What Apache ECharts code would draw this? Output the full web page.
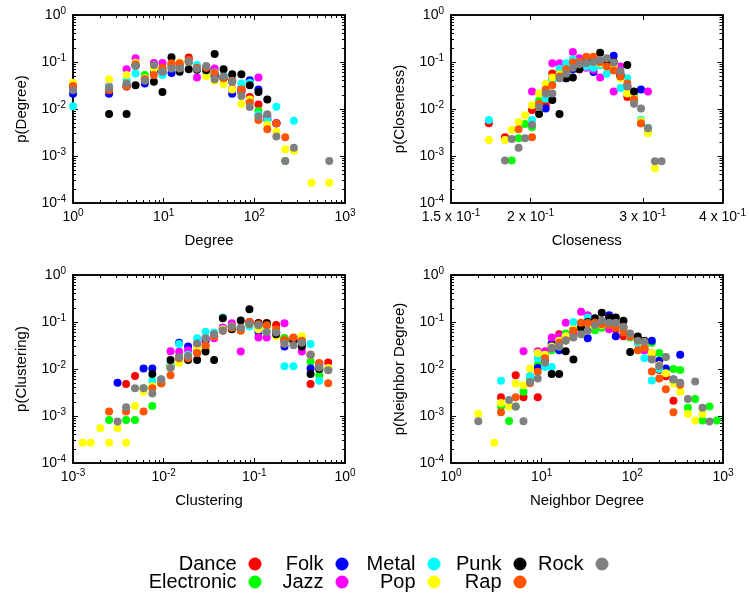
<!DOCTYPE html>
<html lang="en">
<head>
<meta charset="UTF-8">
<title>Genre network distributions</title>
<script src="https://cdn.jsdelivr.net/npm/echarts@6.0.0/dist/echarts.min.js"></script>
<style>
    html, body { margin: 0; padding: 0; background: #fff; }
    #chart { width: 749px; height: 595px; }
</style>
</head>
<body>
<div id="chart"></div>
<script>
    // genres in legend order, gnuplot-ish colours
    const genres = ['Dance', 'Electronic', 'Folk', 'Jazz', 'Metal', 'Pop', 'Punk', 'Rap', 'Rock']
    const genreColors = ['#ff0000', '#00ff00', '#0000ff', '#ff00ff', '#00ffff', '#ffff00', '#000000', '#ff5500', '#808080']

    // ---- p(Degree) ----
    const degreeBins = [1, 2.5, 3.9, 4.9, 6.2, 7.8, 9.7, 12.2, 15, 18.9, 23.3, 29.5, 36.5, 45.8, 57, 72, 89, 111, 139, 175, 219, 273, 427, 670]
    const degreeDance = [0.030, 0.026, 0.031, 0.085, 0.045, 0.075, 0.070, 0.090, 0.090, 0.125, 0.080, 0.075, 0.055, 0.045, 0.040, 0.028, 0.018, 0.0125, 0.007, 0.005, null, null, null, null]
    const degreeElectronic = [0.028, 0.027, 0.033, 0.085, 0.053, 0.070, 0.065, 0.080, 0.080, 0.100, 0.075, 0.070, 0.050, 0.045, 0.038, 0.022, 0.015, 0.0091, 0.006, 0.005, 0.00078, null, null, null]
    const degreeFolk = [0.021, 0.021, 0.030, 0.085, 0.035, 0.065, 0.060, 0.058, 0.075, 0.100, 0.075, 0.070, 0.050, 0.045, 0.021, 0.024, 0.041, 0.026, 0.006, 0.005, null, null, null, null]
    const degreeJazz = [0.027, 0.030, 0.070, 0.120, 0.042, 0.095, 0.095, 0.085, 0.080, 0.110, 0.047, 0.075, 0.073, 0.050, 0.027, 0.025, 0.015, 0.047, 0.006, 0.005, null, null, null, null]
    const degreeMetal = [0.0115, 0.029, 0.041, 0.057, 0.045, 0.075, 0.053, 0.075, 0.075, 0.100, 0.086, 0.065, 0.060, 0.052, 0.050, 0.035, 0.036, 0.0075, 0.0058, 0.0112, null, 0.0056, null, null]
    const degreePop = [0.036, 0.043, 0.053, 0.096, 0.045, 0.072, 0.068, 0.090, 0.096, 0.100, 0.070, 0.050, 0.040, 0.034, 0.026, 0.0127, 0.016, 0.0058, 0.0046, 0.0033, 0.0014, 0.0013, 0.00027, 0.00027]
    const degreePunk = [null, 0.0078, 0.0078, 0.032, null, 0.038, 0.023, 0.126, 0.062, 0.070, 0.068, 0.067, 0.148, 0.070, 0.055, 0.055, 0.032, 0.023, 0.016, null, null, null, null, null]
    const degreeRap = [0.031, 0.025, 0.030, 0.090, 0.043, 0.053, 0.075, 0.094, 0.094, 0.110, 0.075, 0.075, 0.058, 0.045, 0.040, 0.026, 0.0137, 0.0058, 0.0037, 0.005, 0.0025, null, null, null]
    const degreeRock = [0.025, 0.028, 0.035, 0.082, 0.040, 0.086, 0.062, 0.073, 0.073, 0.101, 0.072, 0.082, 0.043, 0.049, 0.038, 0.019, 0.011, 0.0069, 0.0077, 0.0026, 0.00078, 0.0015, null, 0.00078]

    // ---- p(Closeness) ----
    const closeBins = [0.172, 0.1823, 0.1868, 0.1915, 0.196, 0.201, 0.2062, 0.2112, 0.2163, 0.222, 0.2274, 0.233, 0.2385, 0.2445, 0.251, 0.2571, 0.2633, 0.27, 0.2767, 0.2836, 0.2906, 0.298, 0.3056, 0.3134, 0.321]
    const closeDance = [0.005, 0.0025, null, null, null, 0.0095, 0.013, 0.012, 0.057, 0.05, 0.06, 0.075, 0.07, 0.09, 0.1, 0.09, 0.085, 0.08, 0.05, 0.018, 0.015, 0.005, null, null, null]
    const closeElectronic = [null, null, 0.0008, 0.0024, 0.0048, 0.0041, 0.015, 0.025, 0.04, 0.05, 0.06, 0.08, 0.085, 0.1, 0.1, 0.09, 0.09, 0.08, 0.05, 0.03, 0.015, 0.0058, 0.0035, null, null]
    const closeFolk = [null, null, null, null, null, null, null, 0.0103, 0.045, 0.055, 0.045, 0.07, 0.085, 0.1, 0.061, 0.1, 0.1, 0.136, 0.055, 0.03, 0.02, 0.026, null, null, null]
    const closeJazz = [null, null, null, null, null, 0.0235, null, null, 0.094, 0.094, 0.08, 0.163, 0.12, 0.075, 0.068, 0.047, 0.1, 0.0235, 0.08, 0.03, 0.02, null, 0.0235, null, null]
    const closeMetal = [0.0058, null, null, null, null, 0.0058, null, 0.0165, 0.041, 0.072, 0.094, 0.114, 0.1, 0.08, 0.075, 0.085, 0.056, 0.09, 0.028, 0.045, 0.02, 0.0058, 0.004, null, null]
    const closePop = [0.0022, 0.0022, 0.0036, 0.0053, 0.0074, 0.012, 0.0215, 0.034, 0.047, 0.055, 0.065, 0.08, 0.09, 0.1, 0.1, 0.095, 0.09, 0.085, 0.045, 0.0215, 0.017, 0.0055, 0.0031, 0.00055, null]
    const closePunk = [null, null, null, null, null, null, 0.0078, null, 0.0155, 0.0078, 0.045, 0.047, 0.07, 0.1, 0.11, 0.158, 0.1, 0.1, 0.05, 0.086, 0.0235, null, null, null, null]
    const closeRap = [null, null, null, 0.0037, null, 0.0025, 0.013, 0.026, 0.032, 0.049, 0.07, 0.097, 0.1, 0.13, 0.13, 0.1, 0.08, 0.066, 0.05, 0.035, 0.016, 0.005, null, null, null]
    const closeRock = [null, 0.0008, 0.0023, 0.0015, 0.0024, 0.0046, 0.011, 0.0215, 0.0215, 0.045, 0.056, 0.075, 0.09, 0.095, 0.1, 0.11, 0.12, 0.097, 0.064, 0.03, 0.013, 0.0103, 0.0039, 0.00077, 0.00077]

    // ---- p(Clustering) ----
    const clusterBins = [0.00128, 0.00157, 0.002, 0.0025, 0.0031, 0.00385, 0.00483, 0.006, 0.0075, 0.0094, 0.0119, 0.0148, 0.0186, 0.0234, 0.029, 0.036, 0.0449, 0.0564, 0.0708, 0.0883, 0.111, 0.137, 0.174, 0.215, 0.27, 0.334, 0.417, 0.52, 0.653]
    const clusterDance = [null, null, null, null, null, 0.0048, 0.0071, null, null, 0.005, 0.011, 0.017, 0.017, 0.022, 0.03, 0.05, 0.07, 0.08, 0.075, 0.1, 0.095, 0.095, 0.086, 0.045, 0.045, 0.04, 0.0048, 0.013, 0.0138]
    const clusterElectronic = [null, null, null, 0.00082, null, 0.00082, 0.00082, 0.0039, 0.00163, 0.005, 0.011, 0.018, 0.019, 0.025, 0.032, 0.05, 0.07, 0.08, 0.07, 0.09, 0.075, 0.08, 0.065, 0.045, 0.04, 0.04, 0.0145, 0.0074, 0.0095]
    const clusterFolk = [null, null, null, null, 0.0051, null, null, 0.0102, 0.0102, 0.006, 0.012, 0.036, 0.03, 0.025, 0.04, 0.05, 0.075, 0.08, 0.07, 0.095, 0.061, 0.085, 0.06, 0.03, 0.04, 0.035, 0.0102, 0.01, 0.01]
    const clusterJazz = [null, null, null, null, null, null, null, null, null, null, 0.024, 0.0234, 0.025, 0.035, 0.045, 0.045, 0.075, 0.094, 0.0235, 0.1, 0.047, 0.047, 0.06, 0.094, 0.04, 0.0235, 0.02, 0.012, 0.01]
    const clusterMetal = [null, null, null, null, null, null, null, null, 0.0056, 0.006, 0.012, 0.034, 0.02, 0.045, 0.062, 0.06, 0.125, 0.075, 0.075, 0.08, 0.07, 0.09, 0.06, 0.0114, 0.0114, null, 0.034, 0.0056, 0.01]
    const clusterPop = [0.00027, 0.00027, 0.00055, 0.00027, 0.00055, 0.00027, 0.00163, 0.0033, 0.0043, 0.0055, 0.011, 0.0136, 0.017, 0.026, 0.03, 0.05, 0.07, 0.08, 0.07, 0.09, 0.07, 0.08, 0.05, 0.035, 0.04, 0.05, 0.02, 0.01, 0.0105]
    const clusterPunk = [null, null, null, null, null, null, null, null, 0.0078, null, 0.0155, null, 0.0155, 0.0155, 0.0235, 0.0155, 0.12, 0.07, 0.107, 0.186, 0.094, 0.094, 0.055, 0.04, 0.04, 0.03, 0.0078, 0.01, null]
    const clusterRap = [null, null, null, 0.00124, null, 0.00124, null, 0.00124, 0.0039, 0.005, 0.0074, 0.017, 0.017, 0.022, 0.032, 0.05, 0.065, 0.075, 0.065, 0.1, 0.09, 0.085, 0.07, 0.041, 0.047, 0.04, 0.02, 0.0134, 0.005]
    const clusterRock = [null, null, null, null, 0.00076, 0.00153, 0.0039, 0.0039, 0.003, 0.006, 0.0105, 0.0177, 0.019, 0.035, 0.045, 0.055, 0.066, 0.08, 0.075, 0.09, 0.085, 0.061, 0.06, 0.035, 0.032, 0.036, 0.02, 0.0107, 0.0094]

    // ---- p(Neighbor Degree) ----
    const neighborBins = [2, 3, 3.56, 4.37, 5.17, 6.3, 7.45, 9.05, 10.9, 12.9, 15.6, 18.4, 22.4, 27.2, 32.2, 38.8, 46, 55.5, 65.7, 79.8, 94.6, 115, 136, 164, 198, 234, 284, 337, 410, 493, 594, 710, 855]
    const neighborDance = [null, null, 0.0025, null, 0.0074, 0.0025, 0.007, 0.0025, 0.015, 0.03, 0.055, 0.045, 0.07, 0.09, 0.095, 0.09, 0.09, 0.085, 0.07, 0.05, 0.05, 0.04, 0.025, 0.02, 0.0095, 0.007, 0.0021, 0.0049, null, null, null, null, null]
    const neighborElectronic = [null, null, 0.0016, 0.00078, 0.0016, 0.0033, 0.006, 0.0125, 0.02, 0.025, 0.04, 0.057, 0.07, 0.08, 0.08, 0.067, 0.075, 0.085, 0.08, 0.07, 0.047, 0.04, 0.03, 0.036, 0.022, 0.018, 0.01, 0.0095, 0.0015, 0.0023, 0.0008, 0.0016, 0.0008]
    const neighborFolk = [null, null, null, null, null, null, null, 0.0105, 0.02, 0.035, 0.025, 0.05, 0.07, 0.08, 0.045, 0.09, 0.1, 0.14, 0.05, 0.075, 0.05, 0.04, 0.03, 0.04, 0.015, 0.0103, 0.006, 0.02, null, null, null, null, null]
    const neighborJazz = [null, null, null, null, null, 0.024, null, 0.024, 0.024, 0.047, 0.05, 0.096, 0.06, 0.165, 0.14, 0.1, 0.09, 0.07, 0.09, 0.07, 0.05, 0.04, 0.025, 0.022, 0.012, null, null, null, null, null, null, null, null]
    const neighborMetal = [null, null, 0.0056, null, null, null, 0.007, 0.017, 0.011, 0.011, 0.03, 0.05, 0.1, 0.08, 0.125, 0.1, 0.1, 0.1, 0.08, 0.07, 0.05, 0.035, 0.017, 0.0057, 0.01, null, null, null, null, null, null, null, null]
    const neighborPop = [0.0011, 0.00027, 0.0019, 0.0016, 0.0049, 0.0045, 0.0103, 0.022, 0.02, 0.03, 0.04, 0.05, 0.07, 0.075, 0.08, 0.085, 0.086, 0.09, 0.08, 0.07, 0.05, 0.04, 0.03, 0.022, 0.012, 0.0081, 0.0049, 0.0033, 0.0011, 0.0008, 0.0011, null, null]
    const neighborPunk = [null, null, null, null, null, null, null, null, null, 0.0078, 0.0078, 0.024, 0.016, 0.075, 0.1, 0.12, 0.157, 0.125, 0.125, 0.106, 0.023, 0.049, 0.04, null, null, null, null, null, null, null, null, null, null]
    const neighborRap = [null, null, 0.0012, null, 0.0025, null, 0.005, 0.0087, 0.017, 0.028, 0.036, 0.041, 0.065, 0.096, 0.095, 0.096, 0.09, 0.085, 0.075, 0.06, 0.05, 0.025, 0.028, 0.0088, 0.0063, 0.0037, 0.0012, 0.0046, null, null, null, null, null]
    const neighborRock = [0.00077, null, null, 0.0022, 0.0016, 0.00077, 0.0053, 0.0063, 0.0135, 0.028, 0.03, 0.04, 0.047, 0.055, 0.065, 0.085, 0.106, 0.096, 0.096, 0.079, 0.057, 0.04, 0.038, 0.016, 0.0116, 0.018, 0.006, 0.0051, 0.0023, 0.0054, 0.0015, 0.00076, null]

    // tick labels
    const closenessTicks = [0.15, 0.2, 0.3, 0.4]

    const FONT = '"Liberation Sans", Arial, Helvetica, sans-serif'

    const panels = [
        {
            bins: degreeBins, xMin: 1, xMax: 1000, xName: 'Degree', yName: 'p(Degree)',
            values: [degreeDance, degreeElectronic, degreeFolk, degreeJazz, degreeMetal, degreePop, degreePunk, degreeRap, degreeRock]
        },
        {
            bins: closeBins, xMin: 0.15, xMax: 0.4, xName: 'Closeness', yName: 'p(Closeness)', custom: closenessTicks,
            values: [closeDance, closeElectronic, closeFolk, closeJazz, closeMetal, closePop, closePunk, closeRap, closeRock]
        },
        {
            bins: clusterBins, xMin: 0.001, xMax: 1, xName: 'Clustering', yName: 'p(Clustering)',
            values: [clusterDance, clusterElectronic, clusterFolk, clusterJazz, clusterMetal, clusterPop, clusterPunk, clusterRap, clusterRock]
        },
        {
            bins: neighborBins, xMin: 1, xMax: 1000, xName: 'Neighbor Degree', yName: 'p(Neighbor Degree)',
            values: [neighborDance, neighborElectronic, neighborFolk, neighborJazz, neighborMetal, neighborPop, neighborPunk, neighborRap, neighborRock]
        }
    ]

    const grids = [
        {left: 73, top: 15, width: 272, height: 188},
        {left: 451, top: 15, width: 272, height: 188},
        {left: 73, top: 275, width: 272, height: 188},
        {left: 451, top: 275, width: 272, height: 188}
    ]

    const rich = {
        b: {fontSize: 14, lineHeight: 18, fontFamily: FONT, color: '#000'},
        s: {fontSize: 10, lineHeight: 10, verticalAlign: 'top', fontFamily: FONT, color: '#000'}
    }

    // log-space helpers for the tick decoration axes
    function decades(lo, hi) {
        const out = []
        for (let e = Math.ceil(lo - 1e-9); e <= hi + 1e-9; e++) out.push(e)
        return out
    }
    function minors(lo, hi) {
        const out = []
        for (let e = Math.floor(lo); e < hi; e++) {
            for (let k = 2; k <= 9; k++) {
                const v = e + Math.log10(k)
                if (v > lo + 1e-9 && v < hi - 1e-9) out.push(v)
            }
        }
        return out
    }
    const powLabel = v => '{b|10}{s|' + Math.round(v) + '}'
    const closeLabel = v => '{b|' + (Math.round(Math.pow(10, v + 1) * 10) / 10) + ' x 10}{s|-1}'

    // one decoration axis: frame line + ticks (inside), optional labels
    function deco(gridIndex, position, min, max, ticks, len, label, extra) {
        return Object.assign({
            type: 'value', gridIndex: gridIndex, position: position, min: min, max: max,
            axisLine: {show: true, onZero: false, lineStyle: {color: '#000', width: 1.5}},
            axisTick: {show: ticks.length > 0, inside: true, length: len, customValues: ticks, lineStyle: {color: '#000', width: 1}},
            axisLabel: label ? {show: true, customValues: ticks, formatter: label, rich: rich, margin: position === 'bottom' ? 5 : 7} : {show: false},
            splitLine: {show: false},
            silent: true
        }, extra || {})
    }

    const xAxes = []
    const yAxes = []
    const series = []

    panels.forEach((p, pi) => {
        // data axes (log scale), hidden
        const xi = xAxes.length
        const yi = yAxes.length
        xAxes.push({type: 'log', gridIndex: pi, min: p.xMin, max: p.xMax, show: false})
        yAxes.push({type: 'log', gridIndex: pi, min: 0.0001, max: 1, show: false})

        const xlo = Math.log10(p.xMin), xhi = Math.log10(p.xMax)
        const xMajor = p.custom ? p.custom.map(v => Math.log10(v)) : decades(xlo, xhi)
        const xMinor = p.custom ? [] : minors(xlo, xhi)
        const xFmt = p.custom ? closeLabel : powLabel
        const nameX = {name: p.xName, nameLocation: 'middle', nameGap: 30,
            nameTextStyle: {fontSize: 15, fontFamily: FONT, color: '#000'}}
        const nameY = {name: p.yName, nameLocation: 'middle', nameGap: 44,
            nameTextStyle: {fontSize: 15, fontFamily: FONT, color: '#000'}}

        xAxes.push(deco(pi, 'bottom', xlo, xhi, xMajor, 5, xFmt, nameX))
        xAxes.push(deco(pi, 'top', xlo, xhi, xMajor, 5, null))
        xAxes.push(deco(pi, 'bottom', xlo, xhi, xMinor, 3, null))
        xAxes.push(deco(pi, 'top', xlo, xhi, xMinor, 3, null))

        yAxes.push(deco(pi, 'left', -4, 0, decades(-4, 0), 5, powLabel, nameY))
        yAxes.push(deco(pi, 'right', -4, 0, decades(-4, 0), 5, null))
        yAxes.push(deco(pi, 'left', -4, 0, minors(-4, 0), 3, null))
        yAxes.push(deco(pi, 'right', -4, 0, minors(-4, 0), 3, null))

        p.values.forEach((vals, gi) => {
            series.push({
                type: 'scatter',
                name: genres[gi],
                xAxisIndex: xi,
                yAxisIndex: yi,
                symbol: 'circle',
                symbolSize: 8,
                itemStyle: {color: genreColors[gi], opacity: 1},
                data: p.bins.map((x, k) => vals[k] == null ? null : [x, vals[k]]).filter(d => d),
                silent: true
            })
        })
    })

    // gnuplot-style key: text then marker, two rows, filled column by column
    const legendRight = [487.5, 400.5, 308.5, 222.5, 140.5]
    const legendTop = [554, 572]
    const legends = genres.map((g, i) => ({
        data: [{name: g, icon: 'circle'}],
        orient: 'horizontal',
        align: 'right',
        right: legendRight[Math.floor(i / 2)],
        top: legendTop[i % 2],
        itemWidth: 27,
        itemHeight: 13,
        itemGap: 0,
        padding: 0,
        selectedMode: false,
        textStyle: {fontSize: 20, fontFamily: FONT, color: '#000'}
    }))

    const chart = echarts.init(document.getElementById('chart'), null, {renderer: 'canvas'})
    chart.setOption({
        animation: false,
        backgroundColor: '#fff',
        textStyle: {fontFamily: FONT},
        grid: grids,
        xAxis: xAxes,
        yAxis: yAxes,
        legend: legends,
        series: series
    })
</script>
</body>
</html>
